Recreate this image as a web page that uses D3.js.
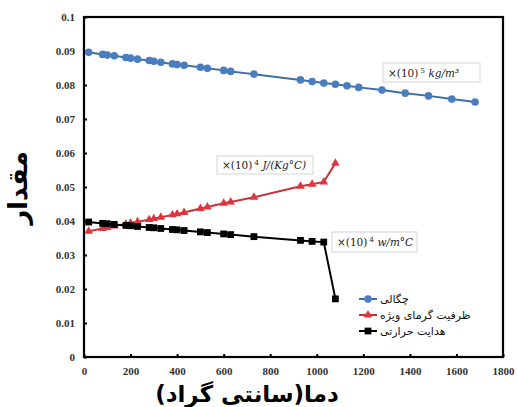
<!DOCTYPE html>
<html><head><meta charset="utf-8">
<script src="https://cdn.jsdelivr.net/npm/d3@7"></script>
<style>body{margin:0;background:#fff}svg{display:block}</style>
</head><body>
<svg id="c" width="517" height="407"></svg>
<script>
const xVals = [20,80,100,130,180,200,230,280,300,330,380,400,430,500,530,600,630,730,930,980,1030,1080,1130,1180,1280,1380,1480,1580,1680];
const density = [0.0896,0.0890,0.0888,0.0886,0.0881,0.0879,0.0876,0.0872,0.0870,0.0867,0.0862,0.0860,0.0858,0.0852,0.0849,0.0843,0.0840,0.0832,0.0815,0.0810,0.0806,0.0802,0.0798,0.0793,0.0785,0.0776,0.0768,0.0759,0.0750];
const xShort = [20,80,100,130,180,200,230,280,300,330,380,400,430,500,530,600,630,730,930,980,1030,1080];
const heatCap = [0.0370,0.0378,0.0381,0.0385,0.0391,0.0394,0.0398,0.0404,0.0407,0.0411,0.0418,0.0421,0.0425,0.0437,0.0441,0.0452,0.0456,0.0470,0.0502,0.0508,0.0515,0.0570];
const conduct = [0.0397,0.0393,0.0392,0.0390,0.0387,0.0386,0.0384,0.0381,0.0380,0.0378,0.0375,0.0374,0.0372,0.0368,0.0366,0.0362,0.0360,0.0354,0.0343,0.0340,0.0338,0.0171];
const xTicks = [0,200,400,600,800,1000,1200,1400,1600,1800];
const yTicks = [0,0.01,0.02,0.03,0.04,0.05,0.06,0.07,0.08,0.09,0.1];
const yTickLabels = ["0","0.01","0.02","0.03","0.04","0.05","0.06","0.07","0.08","0.09","0.1"];
const seriesNames = ["چگالی","ظرفیت گرمای ویژه","هدایت حرارتی"];
const xTitle = "دما(سانتی گراد)";
const yTitle = "مقدار";

const svg = d3.select("#c");
const L=84, R=503, T=17, B=357;
const x = d3.scaleLinear().domain([0,1800]).range([L,R]);
const y = d3.scaleLinear().domain([0,0.1]).range([B,T]);

const series = [
  {name:seriesNames[0], xs:xVals, ys:density, line:"#3E6EA6", fill:"#4A7DC0", shape:"circle"},
  {name:seriesNames[1], xs:xShort, ys:heatCap, line:"#C8323A", fill:"#E0353E", shape:"triangle"},
  {name:seriesNames[2], xs:xShort, ys:conduct, line:"#000", fill:"#000", shape:"square"}
];

const gx = svg.append("g").attr("transform",`translate(0,${B})`)
  .call(d3.axisBottom(x).tickValues(xTicks).tickSize(-3).tickPadding(10).tickFormat(d3.format("d")));
const gy = svg.append("g").attr("transform",`translate(${L},0)`)
  .call(d3.axisLeft(y).tickValues(yTicks).tickSize(-3).tickPadding(9).tickFormat((d,i)=>yTickLabels[i]));
[gx,gy].forEach(g=>{
  g.select(".domain").remove();
  g.selectAll(".tick line").attr("stroke","#000").attr("stroke-width",2);
  g.selectAll(".tick text").attr("fill","#333").attr("font-family","Liberation Serif, DejaVu Serif, serif")
    .attr("font-weight","bold").attr("font-size","11px");
});

svg.append("rect").attr("x",L).attr("y",T).attr("width",R-L).attr("height",B-T)
  .attr("fill","none").attr("stroke","#000").attr("stroke-width",2.2);

function marker(g, shape, cx, cy, fill){
  if(shape==="circle") g.append("circle").attr("cx",cx).attr("cy",cy).attr("r",3.8).attr("fill",fill);
  else if(shape==="triangle") g.append("path").attr("d",d3.symbol().type(d3.symbolTriangle).size(32)()).attr("transform",`translate(${cx},${cy})`).attr("fill",fill);
  else g.append("rect").attr("x",cx-3.4).attr("y",cy-3.4).attr("width",6.8).attr("height",6.8).attr("fill",fill);
}

series.forEach(s=>{
  const pts = s.xs.map((d,i)=>[x(d),y(s.ys[i])]);
  svg.append("path").attr("d",d3.line()(pts)).attr("fill","none").attr("stroke",s.line).attr("stroke-width",2);
  const g = svg.append("g");
  pts.forEach(p=>marker(g,s.shape,p[0],p[1],s.fill));
});

function note(bx,by,bw,bh,exp,unit){
  svg.append("rect").attr("x",bx).attr("y",by).attr("width",bw).attr("height",bh)
    .attr("fill","#fff").attr("stroke","#d4d4d4").attr("stroke-width",1);
  const t = svg.append("text").attr("x",bx+5).attr("y",by+bh/2+4)
    .attr("font-family","DejaVu Serif, Liberation Serif, serif").attr("font-size","10.5px").attr("fill","#222");
  t.append("tspan").text("×(10)");
  t.append("tspan").attr("font-size","7px").attr("dy",-4).text(" "+exp);
  t.append("tspan").attr("dy",4).attr("font-style","italic").text(" "+unit);
}
note(383,63,97,19,"5","kg/m³");
note(217,156,96,18,"4","J/(Kg°C)");
note(332,232,85,20,"4","w/m°C");

const lg = svg.append("g");
const rowsY = [299,315,331];
series.forEach((s,i)=>{
  const yy = rowsY[i];
  lg.append("line").attr("x1",359).attr("x2",377).attr("y1",yy).attr("y2",yy).attr("stroke",s.line).attr("stroke-width",2);
  marker(lg,s.shape,368,yy,s.fill);
  lg.append("text").attr("x",380).attr("y",yy+4).attr("direction","rtl").attr("text-anchor","end")
    .attr("font-family","DejaVu Sans, sans-serif").attr("font-size","11px").attr("fill","#111").text(s.name);
});

svg.append("text").attr("x",247).attr("y",402).attr("text-anchor","middle").attr("direction","rtl")
  .attr("font-family","DejaVu Sans, sans-serif").attr("font-weight","bold").attr("font-size","23px").attr("fill","#000").text(xTitle);
svg.append("text").attr("transform","translate(27,188) rotate(-90)").attr("text-anchor","middle").attr("direction","rtl")
  .attr("font-family","DejaVu Sans, sans-serif").attr("font-weight","bold").attr("font-size","26px").attr("fill","#000").text(yTitle);
</script>
</body></html>
